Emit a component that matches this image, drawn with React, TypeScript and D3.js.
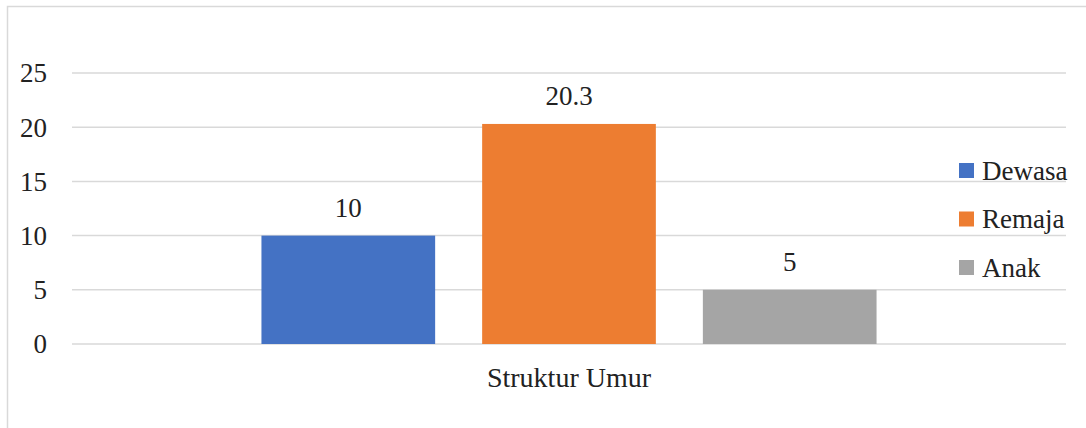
import React, { useEffect, useRef } from "react";
import * as d3 from "d3";

const categories = ["Struktur Umur"];
const seriesNames = ["Dewasa", "Remaja", "Anak"];
const seriesValues = [10, 20.3, 5];
const seriesColors = ["#4472C4", "#ED7D31", "#A5A5A5"];
const yTicks = [0, 5, 10, 15, 20, 25];

const W = 1086;
const H = 428;
const FONT = "'Times New Roman', 'Liberation Serif', 'DejaVu Serif', 'Noto Serif', serif";

const App = () => {
  const ref = useRef<SVGSVGElement>(null);

  useEffect(() => {
    const svg = d3.select(ref.current);
    svg.selectAll("*").remove();

    // chart area border (runs off the right/bottom edge like the source)
    svg
      .append("rect")
      .attr("x", 7.5)
      .attr("y", 6.5)
      .attr("width", 1090)
      .attr("height", 430)
      .attr("fill", "#fff")
      .attr("stroke", "#d9d9d9")
      .attr("stroke-width", 1.5);

    const left = 72,
      right = 1066;

    const y = d3.scaleLinear().domain([0, 25]).range([344, 73]);

    const x0 = d3
      .scaleBand()
      .domain(categories)
      .range([left, right])
      .paddingOuter(0.308);

    const x1 = d3
      .scaleBand()
      .domain(seriesNames)
      .range([0, x0.bandwidth()])
      .paddingInner(0.213)
      .paddingOuter(0);

    // gridlines
    svg
      .append("g")
      .attr("class", "grid")
      .selectAll("line")
      .data(yTicks)
      .enter()
      .append("line")
      .attr("x1", left)
      .attr("x2", right)
      .attr("y1", (d) => y(d))
      .attr("y2", (d) => y(d))
      .attr("stroke", "#d9d9d9")
      .attr("stroke-width", 1.5);

    // y tick labels
    svg
      .append("g")
      .selectAll("text")
      .data(yTicks)
      .enter()
      .append("text")
      .attr("x", 47)
      .attr("y", (d) => y(d))
      .attr("dy", "0.35em")
      .attr("text-anchor", "end")
      .style("font-family", FONT)
      .attr("font-size", 27)
      .attr("fill", "#222")
      .text((d) => d);

    const data = seriesNames.map((name, i) => ({
      cat: categories[0],
      name,
      value: seriesValues[i],
      color: seriesColors[i],
    }));

    // bars
    svg
      .append("g")
      .selectAll("rect")
      .data(data)
      .enter()
      .append("rect")
      .attr("x", (d) => x0(d.cat)! + x1(d.name)!)
      .attr("y", (d) => y(d.value))
      .attr("width", x1.bandwidth())
      .attr("height", (d) => y(0) - y(d.value))
      .attr("fill", (d) => d.color);

    // value labels
    svg
      .append("g")
      .selectAll("text")
      .data(data)
      .enter()
      .append("text")
      .attr("x", (d) => x0(d.cat)! + x1(d.name)! + x1.bandwidth() / 2)
      .attr("y", (d) => y(d.value) - 19)
      .attr("text-anchor", "middle")
      .style("font-family", FONT)
      .attr("font-size", 27)
      .attr("fill", "#222")
      .text((d) => d.value);

    // category label
    svg
      .append("text")
      .attr("x", x0(categories[0])! + x0.bandwidth() / 2)
      .attr("y", 387)
      .attr("text-anchor", "middle")
      .style("font-family", FONT)
      .attr("font-size", 28)
      .attr("fill", "#222")
      .text(categories[0]);

    // legend
    const legend = svg
      .append("g")
      .selectAll("g")
      .data(data)
      .enter()
      .append("g")
      .attr("transform", (d, i) => `translate(959, ${170.5 + i * 48.5})`);

    legend
      .append("rect")
      .attr("x", 0)
      .attr("y", -7.5)
      .attr("width", 15)
      .attr("height", 15)
      .attr("fill", (d) => d.color);

    legend
      .append("text")
      .attr("x", 23)
      .attr("y", 0)
      .attr("dy", "0.35em")
      .style("font-family", FONT)
      .attr("font-size", 27)
      .attr("fill", "#222")
      .text((d) => d.name);
  }, []);

  return (
    <svg
      ref={ref}
      width={W}
      height={H}
      style={{ position: "absolute", left: 0, top: 0 }}
    />
  );
};

export default App;
